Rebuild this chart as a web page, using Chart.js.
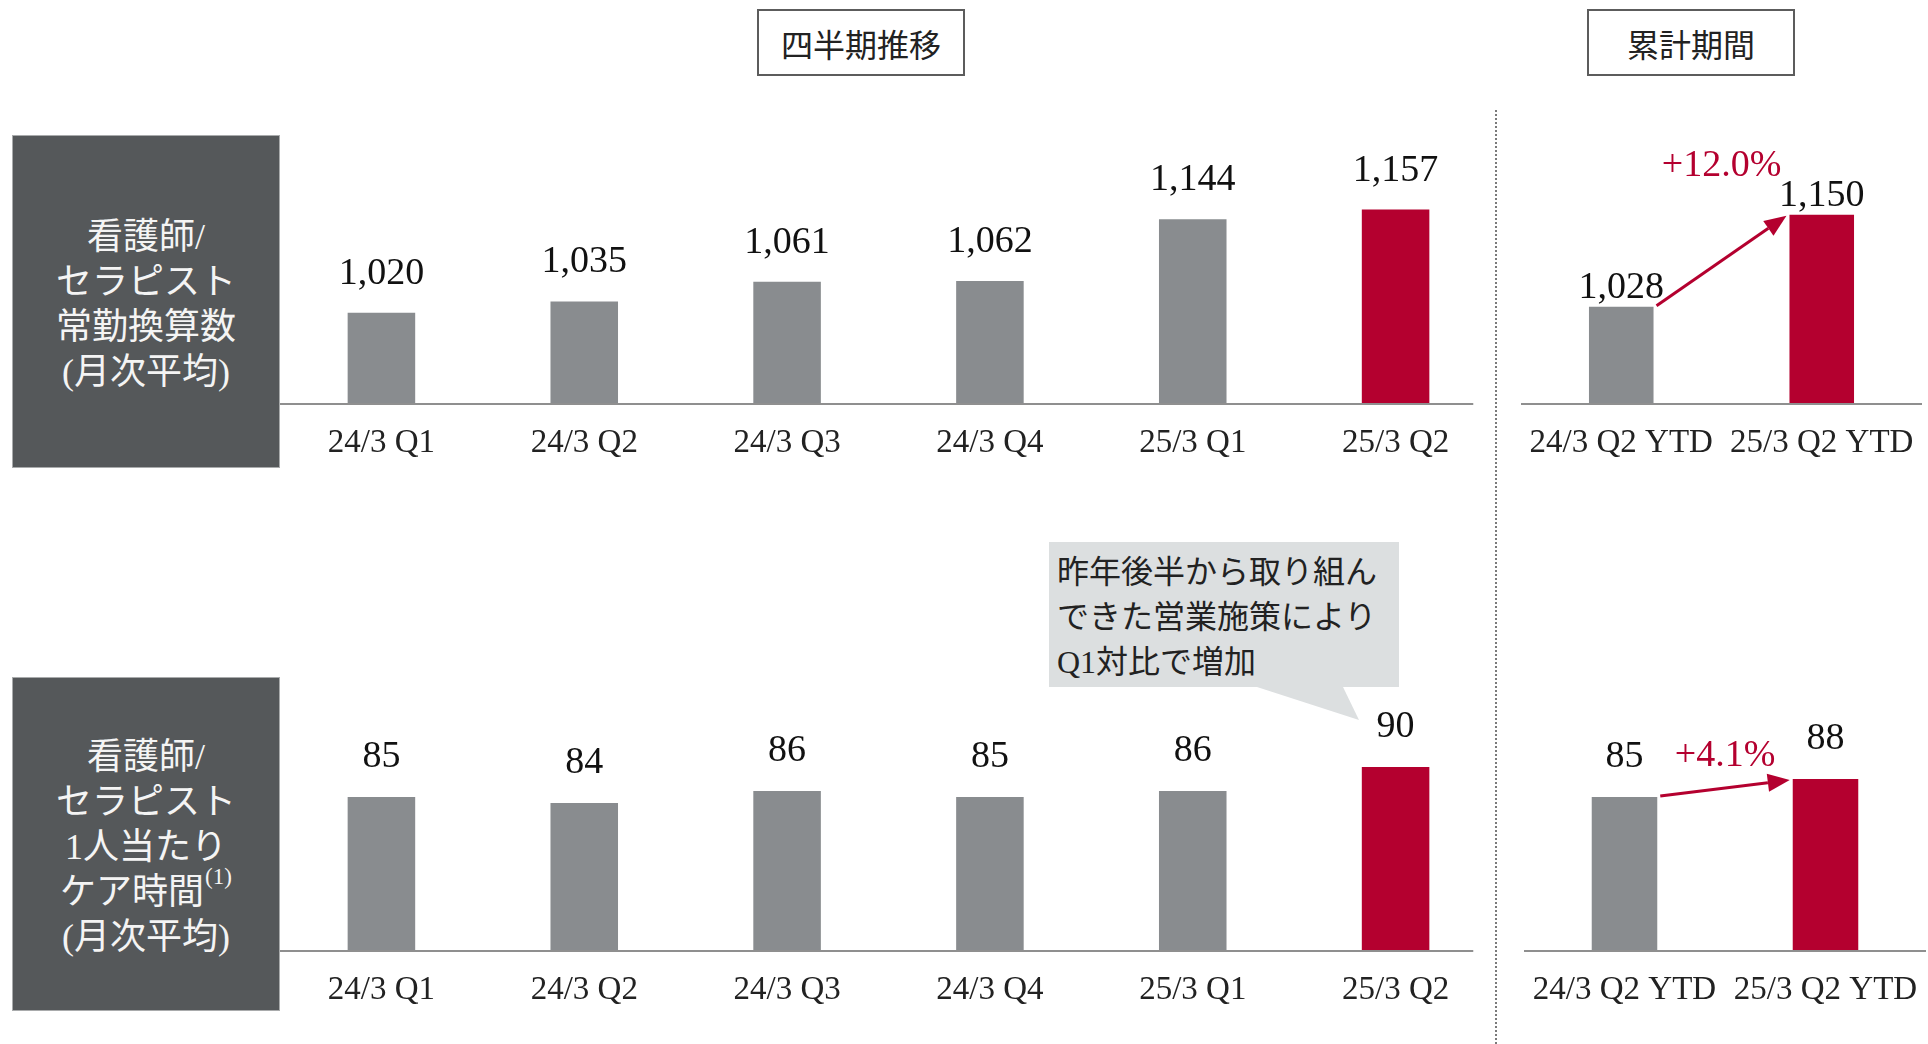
<!DOCTYPE html>
<html lang="ja">
<head>
<meta charset="utf-8">
<title>看護師/セラピスト 推移</title>
<script src="https://cdn.jsdelivr.net/npm/chart.js@4.4.1/dist/chart.umd.min.js"></script>
<style>
  html, body { margin: 0; padding: 0; background: #fff; }
  body {
    width: 1928px; height: 1044px; position: relative; overflow: hidden;
    font-family: "Liberation Serif", "Noto Sans CJK JP", serif;
  }
  .head {
    position: absolute; top: 9px; width: 208px; height: 67px; box-sizing: border-box;
    border: 2px solid #5c5c5c; font-size: 32px; color: #222;
    display: flex; align-items: center; justify-content: center;
  }
  .side {
    position: absolute; left: 12px; width: 268px; box-sizing: border-box;
    background: #55585a; border: 1px solid #a9abac; color: #f4f4f4;
    font-size: 36px; line-height: 45px; text-align: center;
    display: flex; flex-direction: column; justify-content: center; padding-top: 6px;
  }
  .side sup { font-size: 23px; line-height: 0; vertical-align: 20px; margin-left: 1px; }
  .sep {
    position: absolute; left: 1495px; top: 110px; height: 934px;
    border-left: 2px dotted #7a7a7a;
  }
  .note {
    position: absolute; left: 1049px; top: 542px; width: 350px; height: 145px;
    box-sizing: border-box; padding: 8px 0 0 8px;
    background: #dcdfe0; color: #222; font-size: 32px; line-height: 45px;
  }
  .note-tail { position: absolute; left: 1250px; top: 686px; }
  canvas { position: absolute; }
</style>
</head>
<body>

<div class="head" style="left:757px">四半期推移</div>
<div class="head" style="left:1587px">累計期間</div>

<div class="side" style="top:135px;height:333px">
  <div>看護師/</div>
  <div>セラピスト</div>
  <div>常勤換算数</div>
  <div>(月次平均)</div>
</div>
<div class="side" style="top:677px;height:334px">
  <div>看護師/</div>
  <div>セラピスト</div>
  <div>1人当たり</div>
  <div>ケア時間<sup>(1)</sup></div>
  <div>(月次平均)</div>
</div>

<div class="sep"></div>

<canvas id="staffQuarter" width="1217" height="370" style="left:280px;top:100px"></canvas>
<canvas id="staffYtd" width="401" height="370" style="left:1521px;top:100px"></canvas>
<canvas id="careQuarter" width="1217" height="507" style="left:280px;top:510px"></canvas>
<canvas id="careYtd" width="402" height="507" style="left:1524px;top:510px"></canvas>

<div class="note">昨年後半から取り組ん<br>できた営業施策により<br>Q1対比で増加</div>
<svg class="note-tail" width="115" height="36">
  <polygon points="7,1 93,1 109,34" fill="#dcdfe0"/>
</svg>

<script>
// 四半期推移 / 累計期間
const quarterLabels = ['24/3 Q1', '24/3 Q2', '24/3 Q3', '24/3 Q4', '25/3 Q1', '25/3 Q2'];
const ytdLabels = ['24/3 Q2 YTD', '25/3 Q2 YTD'];

// 常勤換算数（月次平均）
const staffQuarterly = [1020, 1035, 1061, 1062, 1144, 1157];
const staffYtd = [1028, 1150];
const staffYtdGrowth = '+12.0%';

// 1人当たりケア時間（月次平均）
const careQuarterly = [85, 84, 86, 85, 86, 90];
const careYtd = [85, 88];
const careYtdGrowth = '+4.1%';

const GRAY = '#898c8f';
const RED = '#b4002f';
const AXIS = '#8f8f8f';
const SERIF = '"Liberation Serif", "Noto Sans CJK JP", serif';

// baseline, value labels and the YTD growth arrow
const barNotes = {
  id: 'barNotes',
  beforeDatasetsDraw(chart, args, opts) {
    const { ctx, chartArea, scales: { x } } = chart;
    const n = chart.data.labels.length;
    const step = x.width / n;
    const right = x.getPixelForValue(n - 1) + step * opts.axisOverhang;
    ctx.save();
    ctx.strokeStyle = AXIS;
    ctx.lineWidth = 2;
    ctx.beginPath();
    ctx.moveTo(chartArea.left, chartArea.bottom + 1);
    ctx.lineTo(right, chartArea.bottom + 1);
    ctx.stroke();
    ctx.restore();
  },
  afterDatasetsDraw(chart, args, opts) {
    const { ctx } = chart;
    const bars = chart.getDatasetMeta(0).data;
    const values = chart.data.datasets[0].data;
    ctx.save();
    ctx.font = '38px ' + SERIF;
    ctx.textAlign = 'center';
    ctx.textBaseline = 'alphabetic';
    ctx.fillStyle = '#111';
    bars.forEach((bar, i) => {
      ctx.fillText(values[i].toLocaleString('en-US'), bar.x, bar.y - opts.labelGap);
    });

    if (opts.growth) {
      const a = bars[0], b = bars[1];
      const x0 = a.x + a.width / 2 + 3, y0 = a.y - 1;
      const x1 = b.x - b.width / 2 - 3, y1 = b.y + 1;
      const ang = Math.atan2(y1 - y0, x1 - x0);
      const len = 22, half = 9;
      const bx = x1 - len * Math.cos(ang), by = y1 - len * Math.sin(ang);
      ctx.strokeStyle = RED;
      ctx.fillStyle = RED;
      ctx.lineWidth = 3;
      ctx.beginPath();
      ctx.moveTo(x0, y0);
      ctx.lineTo(bx, by);
      ctx.stroke();
      ctx.beginPath();
      ctx.moveTo(x1, y1);
      ctx.lineTo(bx - half * Math.sin(ang), by + half * Math.cos(ang));
      ctx.lineTo(bx + half * Math.sin(ang), by - half * Math.cos(ang));
      ctx.closePath();
      ctx.fill();
      ctx.fillText(opts.growth, (a.x + b.x) / 2, b.y - opts.growthGap);
    }
    ctx.restore();
  }
};

function makeChart(id, labels, values, cfg) {
  const colors = values.map((v, i) => (i === values.length - 1 ? RED : GRAY));
  return new Chart(document.getElementById(id), {
    type: 'bar',
    data: {
      labels: labels,
      datasets: [{
        data: values,
        backgroundColor: colors,
        borderWidth: 0,
        categoryPercentage: 1,
        barPercentage: cfg.barPercentage
      }]
    },
    options: {
      responsive: false,
      animation: false,
      layout: { padding: { top: 17, left: 0, right: 0, bottom: 0 } },
      plugins: {
        legend: { display: false },
        tooltip: { enabled: false },
        barNotes: {
          labelGap: cfg.labelGap,
          axisOverhang: cfg.axisOverhang,
          growth: cfg.growth || null,
          growthGap: cfg.growthGap || 0
        }
      },
      scales: {
        x: {
          grid: { display: false },
          border: { display: false },
          ticks: {
            padding: 13,
            autoSkip: false,
            maxRotation: 0,
            color: '#222',
            font: { family: SERIF, size: 33 }
          },
          // keep the plot area full width even when long labels touch the edges
          afterFit: (scale) => {
            scale.height = 67;
            scale.paddingLeft = 0;
            scale.paddingRight = 0;
          }
        },
        y: {
          display: false,
          min: cfg.min,
          max: cfg.max
        }
      }
    },
    plugins: [barNotes]
  });
}

makeChart('staffQuarter', quarterLabels, staffQuarterly, {
  min: 900, max: 1280, barPercentage: 0.333, labelGap: 29, axisOverhang: 0.383
});
makeChart('staffYtd', ytdLabels, staffYtd, {
  min: 900, max: 1280, barPercentage: 0.322, labelGap: 9, axisOverhang: 0.5,
  growth: staffYtdGrowth, growthGap: 39
});
makeChart('careQuarter', quarterLabels, careQuarterly, {
  min: 59.5, max: 130, barPercentage: 0.333, labelGap: 30, axisOverhang: 0.383
});
makeChart('careYtd', ytdLabels, careYtd, {
  min: 59.5, max: 130, barPercentage: 0.326, labelGap: 30, axisOverhang: 0.5,
  growth: careYtdGrowth, growthGap: 13
});
</script>
</body>
</html>
